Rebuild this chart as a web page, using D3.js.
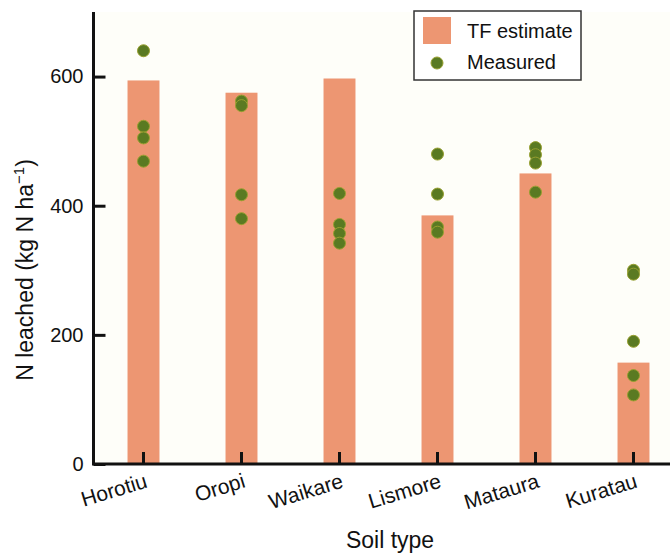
<!DOCTYPE html>
<html>
<head>
<meta charset="utf-8">
<script src="https://cdn.jsdelivr.net/npm/d3@7"></script>
<style>
  html, body { margin: 0; padding: 0; background: #ffffff; }
  svg { display: block; font-family: "Liberation Sans", Arial, Helvetica, sans-serif; }
</style>
</head>
<body>
<svg id="chart" width="670" height="554"></svg>
<script>
// Soil types along the x axis
const soils = ["Horotiu", "Oropi", "Waikare", "Lismore", "Mataura", "Kuratau"];
// Transfer-function estimate of N leached (kg N/ha), one per soil
const tfEstimate = [594, 575, 597, 385, 450, 157];
// Measured N leached (kg N/ha), replicate values per soil
const measured = [
  [640, 523, 505, 469],
  [562, 555, 417, 380],
  [419, 371, 357, 342],
  [480, 418, 367, 359],
  [490, 479, 466, 421],
  [300, 294, 190, 137, 107]
];
const yTicks = [0, 200, 400, 600];

const barColor = "#ed9672";
const dotColor = "#5a7a22";
const dotStroke = "#98a030";
const ink = "#111111";

const svg = d3.select("#chart");
const W = 670;
const plotLeft = 93.5, plotTop = 12, plotBottom = 464;

const x = d3.scaleBand()
  .domain(soils)
  .range([plotLeft + 1, plotLeft + 1 + 98 * soils.length])
  .paddingInner(0.674)
  .paddingOuter(0.337);

const y = d3.scaleLinear()
  .domain([0, 700])
  .range([plotBottom, plotTop]);

// faint plot panel
svg.append("rect")
  .attr("x", plotLeft).attr("y", plotTop)
  .attr("width", W - plotLeft).attr("height", plotBottom - plotTop)
  .attr("fill", "#fefef9");

// TF estimate bars
svg.append("g").selectAll("rect")
  .data(soils)
  .join("rect")
  .attr("x", d => x(d))
  .attr("width", x.bandwidth())
  .attr("y", (d, i) => y(tfEstimate[i]))
  .attr("height", (d, i) => y(0) - y(tfEstimate[i]))
  .attr("fill", barColor);

// measured points
const pts = [];
soils.forEach((s, i) => measured[i].forEach(v => pts.push({ soil: s, value: v })));
svg.append("g").selectAll("circle")
  .data(pts)
  .join("circle")
  .attr("cx", d => x(d.soil) + x.bandwidth() / 2)
  .attr("cy", d => y(d.value))
  .attr("r", 6)
  .attr("fill", dotColor)
  .attr("stroke", dotStroke)
  .attr("stroke-width", 1);

// y axis with inward ticks
const yAxis = svg.append("g")
  .attr("transform", `translate(${plotLeft},0)`)
  .call(d3.axisLeft(y).tickValues(yTicks).tickSize(-12).tickSizeOuter(0).tickPadding(10));
yAxis.select(".domain").remove();
yAxis.selectAll(".tick line").attr("stroke", ink).attr("stroke-width", 3);
yAxis.selectAll(".tick text")
  .attr("fill", ink)
  .style("font-size", "20px");

// x axis with inward ticks
const xAxis = svg.append("g")
  .attr("transform", `translate(0,${plotBottom})`)
  .call(d3.axisBottom(x).tickSize(-12).tickSizeOuter(0));
xAxis.select(".domain").remove();
xAxis.selectAll(".tick line").attr("stroke", ink).attr("stroke-width", 3);
xAxis.selectAll(".tick text")
  .attr("fill", ink)
  .style("font-size", "21px")
  .attr("text-anchor", "end")
  .attr("y", 0).attr("dy", 0)
  .attr("transform", "translate(5,23) rotate(-17)");

// axis lines
svg.append("path")
  .attr("d", `M${plotLeft},${plotTop}V${plotBottom}H${W}`)
  .attr("fill", "none")
  .attr("stroke", ink)
  .attr("stroke-width", 3);

// axis titles
svg.append("text")
  .attr("x", 390).attr("y", 548)
  .attr("text-anchor", "middle")
  .attr("fill", ink)
  .style("font-size", "23px")
  .text("Soil type");

const yTitle = svg.append("text")
  .attr("transform", "translate(33,270) rotate(-90)")
  .attr("text-anchor", "middle")
  .attr("fill", ink)
  .style("font-size", "23px");
yTitle.append("tspan").text("N leached (kg N ha");
yTitle.append("tspan").attr("dy", -9).style("font-size", "15px").text("\u22121");
yTitle.append("tspan").attr("dy", 9).text(")");

// legend
const lg = svg.append("g");
lg.append("rect")
  .attr("x", 414).attr("y", 11).attr("width", 167).attr("height", 69)
  .attr("fill", "#ffffff").attr("stroke", "#333333").attr("stroke-width", 1.5);
lg.append("rect")
  .attr("x", 423).attr("y", 17).attr("width", 28).attr("height", 27)
  .attr("fill", barColor);
lg.append("circle")
  .attr("cx", 437).attr("cy", 63).attr("r", 6)
  .attr("fill", dotColor).attr("stroke", dotStroke).attr("stroke-width", 1);
lg.append("text").attr("x", 467).attr("y", 38).attr("fill", ink)
  .style("font-size", "20px").text("TF estimate");
lg.append("text").attr("x", 467).attr("y", 69).attr("fill", ink)
  .style("font-size", "20px").text("Measured");
</script>
</body>
</html>
